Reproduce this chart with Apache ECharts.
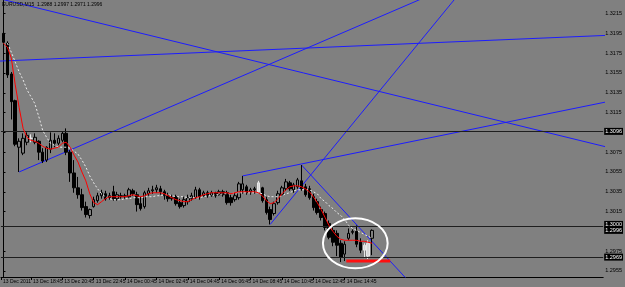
<!DOCTYPE html>
<html><head><meta charset="utf-8">
<script src="https://cdn.jsdelivr.net/npm/echarts@6/dist/echarts.min.js"></script>
<style>html,body{margin:0;padding:0;background:#808080;}#c{width:625px;height:287px;}</style>
</head><body><div id="c"></div><script>
const title = 'EURUSD,M15  1.2988 1.2997 1.2971 1.2996';
const opens = [1.3195,1.3185,1.3154,1.3127,1.3080,1.3074,1.3085,1.3089,1.3085,1.3086,
 1.3075,1.3067,1.3078,1.3087,1.3084,1.3087,1.3094,1.3075,1.3054,1.3039,
 1.3032,1.3020,1.3011,1.3020,1.3026,1.3031,1.3033,1.3029,1.3035,1.3028,
 1.3031,1.3030,1.3030,1.3036,1.3032,1.3023,1.3020,1.3033,1.3036,1.3037,
 1.3038,1.3035,1.3031,1.3028,1.3030,1.3024,1.3021,1.3025,1.3028,1.3029,
 1.3037,1.3031,1.3034,1.3031,1.3034,1.3032,1.3035,1.3034,1.3029,1.3027,
 1.3029,1.3037,1.3040,1.3035,1.3037,1.3035,1.3039,1.3027,1.3017,1.3013,
 1.3024,1.3032,1.3038,1.3044,1.3037,1.3040,1.3046,1.3040,1.3038,1.3030,
 1.3025,1.3017,1.3013,1.3003,1.2996,1.2993,1.2983,1.2972,1.2988,1.2994,
 1.2995,1.2984,1.2976,1.2970,1.2988];
const highs = [1.3198,1.3187,1.3156,1.3128,1.3089,1.3094,1.3095,1.3093,1.3094,1.3087,
 1.3079,1.3081,1.3095,1.3094,1.3092,1.3096,1.3099,1.3077,1.3067,1.3050,
 1.3038,1.3025,1.3018,1.3030,1.3034,1.3037,1.3036,1.3034,1.3041,1.3035,
 1.3034,1.3033,1.3039,1.3038,1.3035,1.3030,1.3036,1.3039,1.3041,1.3042,
 1.3041,1.3037,1.3034,1.3032,1.3032,1.3028,1.3030,1.3032,1.3034,1.3040,
 1.3039,1.3036,1.3036,1.3036,1.3035,1.3037,1.3037,1.3036,1.3032,1.3034,
 1.3045,1.3051,1.3042,1.3039,1.3040,1.3046,1.3040,1.3030,1.3020,1.3025,
 1.3036,1.3041,1.3048,1.3046,1.3044,1.3049,1.3062,1.3043,1.3041,1.3033,
 1.3028,1.3020,1.3015,1.3006,1.2999,1.2996,1.2986,1.2985,1.2998,1.2997,
 1.3001,1.2988,1.2983,1.2986,1.2997];
const lows = [1.3184,1.3150,1.3108,1.3081,1.3055,1.3072,1.3082,1.3085,1.3083,1.3067,
 1.3064,1.3065,1.3074,1.3080,1.3082,1.3085,1.3072,1.3045,1.3034,1.3028,
 1.3016,1.3009,1.3008,1.3019,1.3024,1.3028,1.3026,1.3027,1.3026,1.3026,
 1.3028,1.3028,1.3029,1.3031,1.3015,1.3016,1.3018,1.3031,1.3033,1.3034,
 1.3032,1.3027,1.3025,1.3026,1.3021,1.3018,1.3019,1.3022,1.3026,1.3028,
 1.3027,1.3030,1.3029,1.3030,1.3029,1.3031,1.3030,1.3022,1.3021,1.3025,
 1.3027,1.3033,1.3032,1.3032,1.3033,1.3034,1.3024,1.3012,1.3002,1.3011,
 1.3022,1.3031,1.3036,1.3036,1.3034,1.3038,1.3036,1.3030,1.3027,1.3016,
 1.3012,1.3006,1.2996,1.2987,1.2980,1.2970,1.2964,1.2965,1.2986,1.2992,
 1.2979,1.2973,1.2968,1.2967,1.2971];
const closes = [1.3186,1.3153,1.3126,1.3083,1.3086,1.3089,1.3092,1.3089,1.3090,1.3075,
 1.3066,1.3080,1.3087,1.3084,1.3089,1.3094,1.3075,1.3054,1.3039,1.3032,
 1.3019,1.3012,1.3017,1.3027,1.3031,1.3034,1.3028,1.3031,1.3028,1.3032,
 1.3030,1.3031,1.3037,1.3033,1.3022,1.3018,1.3034,1.3036,1.3037,1.3039,
 1.3035,1.3031,1.3028,1.3029,1.3023,1.3020,1.3027,1.3029,1.3031,1.3037,
 1.3030,1.3034,1.3031,1.3034,1.3031,1.3035,1.3032,1.3024,1.3024,1.3031,
 1.3043,1.3043,1.3034,1.3037,1.3038,1.3044,1.3026,1.3014,1.3007,1.3023,
 1.3033,1.3039,1.3045,1.3038,1.3042,1.3047,1.3038,1.3032,1.3029,1.3019,
 1.3014,1.3009,1.2999,1.2989,1.2984,1.2981,1.2969,1.2982,1.2993,1.2995,
 1.2982,1.2976,1.2981,1.2983,1.2996];
const lightBars = [7, 65, 92, 93];
const maFast = [1.3185,1.3181,1.3170,1.3143,1.3120,1.3099,1.3090,1.3087,1.3086,1.3084,
 1.3081,1.3079,1.3078,1.3079,1.3080,1.3084,1.3085,1.3080,1.3072,1.3065,
 1.3055,1.3046,1.3033,1.3024,1.3022,1.3025,1.3028,1.3030,1.3030,1.3030,
 1.3030,1.3030,1.3031,1.3032,1.3031,1.3030,1.3031,1.3033,1.3034,1.3034,
 1.3034,1.3033,1.3031,1.3029,1.3027,1.3026,1.3025,1.3025,1.3027,1.3029,
 1.3030,1.3032,1.3033,1.3034,1.3034,1.3034,1.3034,1.3034,1.3033,1.3034,
 1.3035,1.3035,1.3035,1.3035,1.3035,1.3034,1.3031,1.3026,1.3023,1.3024,
 1.3028,1.3033,1.3037,1.3040,1.3041,1.3041,1.3040,1.3038,1.3035,1.3030,
 1.3024,1.3017,1.3009,1.3001,1.2995,1.2990,1.2987,1.2986,1.2986,1.2986,
 1.2986,1.2985,1.2985,1.2984,1.2983];
const maSlow = [null,1.3185,1.3176,1.3166,1.3156,1.3148,1.3138,1.3131,1.3124,1.3111,
 1.3097,1.3090,1.3084,1.3082,1.3080,1.3080,1.3080,1.3079,1.3076,1.3073,
 1.3067,1.3060,1.3051,1.3044,1.3038,1.3033,1.3030,1.3028,1.3027,1.3027,
 1.3027,1.3028,1.3028,1.3029,1.3029,1.3029,1.3030,1.3030,1.3030,1.3031,
 1.3031,1.3032,1.3032,1.3031,1.3030,1.3030,1.3030,1.3029,1.3029,1.3029,
 1.3029,1.3030,1.3031,1.3031,1.3032,1.3032,1.3033,1.3033,1.3033,1.3034,
 1.3034,1.3034,1.3034,1.3034,1.3034,1.3034,1.3033,1.3031,1.3030,1.3030,
 1.3030,1.3031,1.3033,1.3034,1.3036,1.3037,1.3037,1.3037,1.3037,1.3035,
 1.3033,1.3028,1.3025,1.3021,1.3018,1.3014,1.3011,1.3007,1.3001,1.2998,
 1.2996,1.2994,1.2992,1.2990,1.2988];
const xTickBars = [-0.63, 7, 15, 23, 31, 39, 47, 55, 63, 71, 79, 87];
const xTickLabels = ['13 Dec 2011','13 Dec 18:45','13 Dec 20:45','13 Dec 22:45','14 Dec 00:45','14 Dec 02:45','14 Dec 04:45','14 Dec 06:45','14 Dec 08:45','14 Dec 10:45','14 Dec 12:45','14 Dec 14:45'];
const yTickValues = [1.2955,1.2975,1.3015,1.3035,1.3055,1.3075,1.3095,1.3115,1.3135,1.3155,1.3175,1.3195,1.3215];
const levels = [1.3096, 1.3000, 1.2969];
const bidPrice = 1.2996;
const trendLines = [
 [[-1, 1.3167], [154, 1.3193]],
 [[-2, 1.3231], [154, 1.3080]],
 [[4, 1.3055], [109, 1.3234]],
 [[61, 1.3051], [154, 1.3126]],
 [[68, 1.3002], [117, 1.3239]],
 [[76, 1.3062], [103, 1.2946]]
];
const supportMark = [[87.4, 1.2965], [98.6, 1.2965]];
const circleMark = [[89.7, 1.2983, 8.25, 0.00253]];

const chart = echarts.init(document.getElementById('c'), null, {renderer: 'canvas'});
const FONT = 'Liberation Sans';
const candleData = opens.map((o, i) => {
  const it = {value: [i, o, closes[i], lows[i], highs[i]]};
  if (lightBars.indexOf(i) >= 0) it.itemStyle = {color: '#d8d8d8', color0: '#d8d8d8', borderColor: '#e8e8e8', borderColor0: '#e8e8e8'};
  return it;
});
const boxLabel = (txt, dy) => ({show: true, position: 'end', distance: 1, formatter: txt, offset: [0, dy], color: '#ffffff',
  backgroundColor: '#000000', fontFamily: FONT, fontSize: 5.5, padding: [1, 1, 0, 1]});
const series = [];
trendLines.forEach(l => series.push({type: 'line', data: l, showSymbol: false, symbol: 'none', clip: true,
  lineStyle: {color: '#1c1cff', width: 1}, z: 3, silent: true, animation: false}));
series.push({type: 'candlestick', dimensions: ['bar','open','close','lowest','highest'],
  encode: {x: 'bar', y: ['open','close','lowest','highest']}, data: candleData, barWidth: 3, z: 4,
  itemStyle: {color: '#808080', color0: '#000000', borderColor: '#000000', borderColor0: '#000000', borderWidth: 1},
  markLine: {symbol: 'none', silent: true, animation: false, precision: 4,
    data: levels.map((v, k) => ({yAxis: v, label: boxLabel(v.toFixed(4), k === 1 ? -2 : 0)}))
      .concat([{yAxis: bidPrice, lineStyle: {color: 'rgba(0,0,0,0)'}, label: boxLabel(bidPrice.toFixed(4), 0)}]),
    lineStyle: {color: '#1e1e1e', width: 1, type: 'solid'}}});
series.push({type: 'line', data: maSlow.map((v, i) => [i, v]), showSymbol: false, symbol: 'none',
  lineStyle: {color: '#ececec', width: 1, type: [2, 2]}, z: 5, animation: false});
series.push({type: 'line', data: maFast.map((v, i) => [i, v]), showSymbol: false, symbol: 'none',
  lineStyle: {color: '#ff0000', width: 1}, z: 6, animation: false});
series.push({type: 'line', data: supportMark, showSymbol: false, symbol: 'none', lineStyle: {color: '#ff1010', width: 3}, z: 7, animation: false});
series.push({type: 'custom', data: circleMark, clip: false, z: 8, encode: {x: 0, y: 1},
  renderItem: (params, api) => {
    const c = api.coord([api.value(0), api.value(1)]);
    const e = api.coord([api.value(0) + api.value(2), api.value(1) + api.value(3)]);
    return {type: 'ellipse', shape: {cx: c[0], cy: c[1], rx: Math.abs(e[0] - c[0]), ry: Math.abs(e[1] - c[1])},
      style: {fill: null, stroke: '#ffffff', lineWidth: 2}};
  }});

chart.setOption({
  animation: false,
  backgroundColor: '#808080',
  title: {text: title, left: 2, top: 2, padding: 0, textStyle: {fontFamily: FONT, fontSize: 5, fontWeight: 'normal', color: '#000'}},
  grid: {left: 0, right: 20, top: 0, bottom: 10, show: false},
  xAxis: {type: 'value', min: -0.635, max: 152.9, splitLine: {show: false},
    axisLine: {show: true, onZero: false, lineStyle: {color: '#000', width: 1}},
    axisTick: {show: true, customValues: xTickBars, length: 3, lineStyle: {color: '#000'}},
    axisLabel: {customValues: xTickBars, align: 'left', margin: 2, padding: [0, 0, 0, 2], fontFamily: FONT, fontSize: 5, color: '#000',
      formatter: v => { let b = 0; xTickBars.forEach((t, k) => { if (Math.abs(t - v) < Math.abs(xTickBars[b] - v)) b = k; }); return xTickLabels[b]; }}},
  yAxis: {type: 'value', position: 'right', min: 1.29489, max: 1.32287, splitLine: {show: false},
    axisLine: {show: true, lineStyle: {color: '#000', width: 1}},
    axisTick: {show: true, customValues: yTickValues, length: 2, lineStyle: {color: '#000'}},
    axisLabel: {customValues: yTickValues, margin: 2, fontFamily: FONT, fontSize: 5.5, color: '#000', formatter: v => v.toFixed(4)}},
  series: series
});
</script></body></html>
